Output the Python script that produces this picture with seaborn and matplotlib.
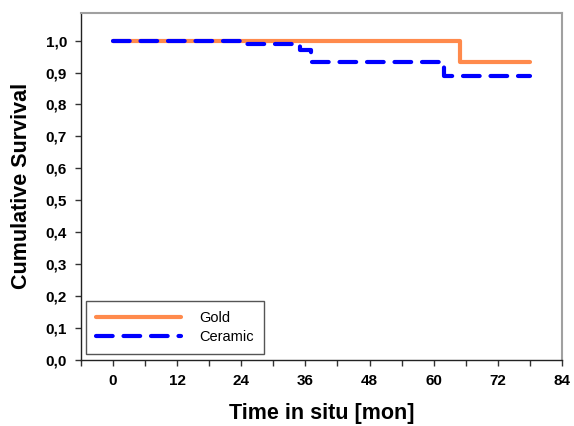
import numpy as np
import pandas as pd
import seaborn as sns
import matplotlib
matplotlib.use('Agg')
from matplotlib import pyplot as plt
from matplotlib.ticker import MultipleLocator, FuncFormatter
from matplotlib.lines import Line2D

# survival curves (step after each time)
gold_time = [0, 65, 78]
gold_surv = [1.0, 0.933, 0.933]
ceramic_time = [0, 24, 35, 37, 62, 78]
ceramic_surv = [1.0, 0.99, 0.97, 0.932, 0.888, 0.888]
x_ticks = [0, 12, 24, 36, 48, 60, 72, 84]

df = pd.concat([
    pd.DataFrame({'time': gold_time, 'surv': gold_surv, 'group': 'Gold'}),
    pd.DataFrame({'time': ceramic_time, 'surv': ceramic_surv, 'group': 'Ceramic'}),
])

sns.set_style('ticks')
plt.rcParams['font.family'] = ['Liberation Sans', 'DejaVu Sans']
plt.rcParams['text.color'] = 'black'
plt.rcParams['axes.labelcolor'] = 'black'
plt.rcParams['xtick.color'] = 'black'
plt.rcParams['ytick.color'] = 'black'

fig = plt.figure(figsize=(5.74, 4.26), dpi=100)
ax = fig.add_axes([0.141, 0.155, 0.838, 0.815])

sns.lineplot(data=df, x='time', y='surv', hue='group', style='group',
             palette={'Gold': '#FF8A4C', 'Ceramic': '#0000FF'},
             dashes={'Gold': '', 'Ceramic': (4, 2.6)},
             drawstyle='steps-post', linewidth=3, ax=ax, legend=False,
             estimator=None, sort=False)
for ln in ax.lines:
    ln.set_dash_capstyle('round')
    ln.set_solid_capstyle('round')

ax.set_xlim(-6, 84)
ax.set_ylim(0, 1.087)
ax.set_xticks(x_ticks)
ax.xaxis.set_minor_locator(MultipleLocator(6))
ax.yaxis.set_major_locator(MultipleLocator(0.1))
ax.yaxis.set_major_formatter(FuncFormatter(lambda v, p: f'{v:.1f}'.replace('.', ',')))
ax.tick_params(axis='both', which='both', direction='out', length=4, width=1,
               color='#333333', labelcolor='black', labelsize=11, pad=6)
for lab in ax.get_xticklabels() + ax.get_yticklabels():
    lab.set_fontweight('bold')

for s in ['top', 'right']:
    ax.spines[s].set_color('#A0A0A0')
    ax.spines[s].set_linewidth(1.5)
for s in ['left', 'bottom']:
    ax.spines[s].set_color('#222222')
    ax.spines[s].set_linewidth(1)

ax.set_xlabel('Time in situ [mon]', fontsize=15.5, fontweight='bold', labelpad=11)
ax.set_ylabel('Cumulative Survival', fontsize=15.5, fontweight='bold', labelpad=10)

handles = [Line2D([], [], color='#FF8A4C', lw=3, solid_capstyle='round'),
           Line2D([], [], color='#0000FF', lw=3, dashes=(4, 2.6), dash_capstyle='round')]
leg = ax.legend(handles, ['Gold', 'Ceramic'], loc='lower left', bbox_to_anchor=(0.01, 0.017),
                borderaxespad=0, fontsize=10.5, handlelength=5.8, fancybox=False, framealpha=1,
                edgecolor='#555555', borderpad=0.7, handletextpad=1.3, labelspacing=0.3)
leg.get_frame().set_linewidth(1)

fig.savefig('out.png', dpi=100)
